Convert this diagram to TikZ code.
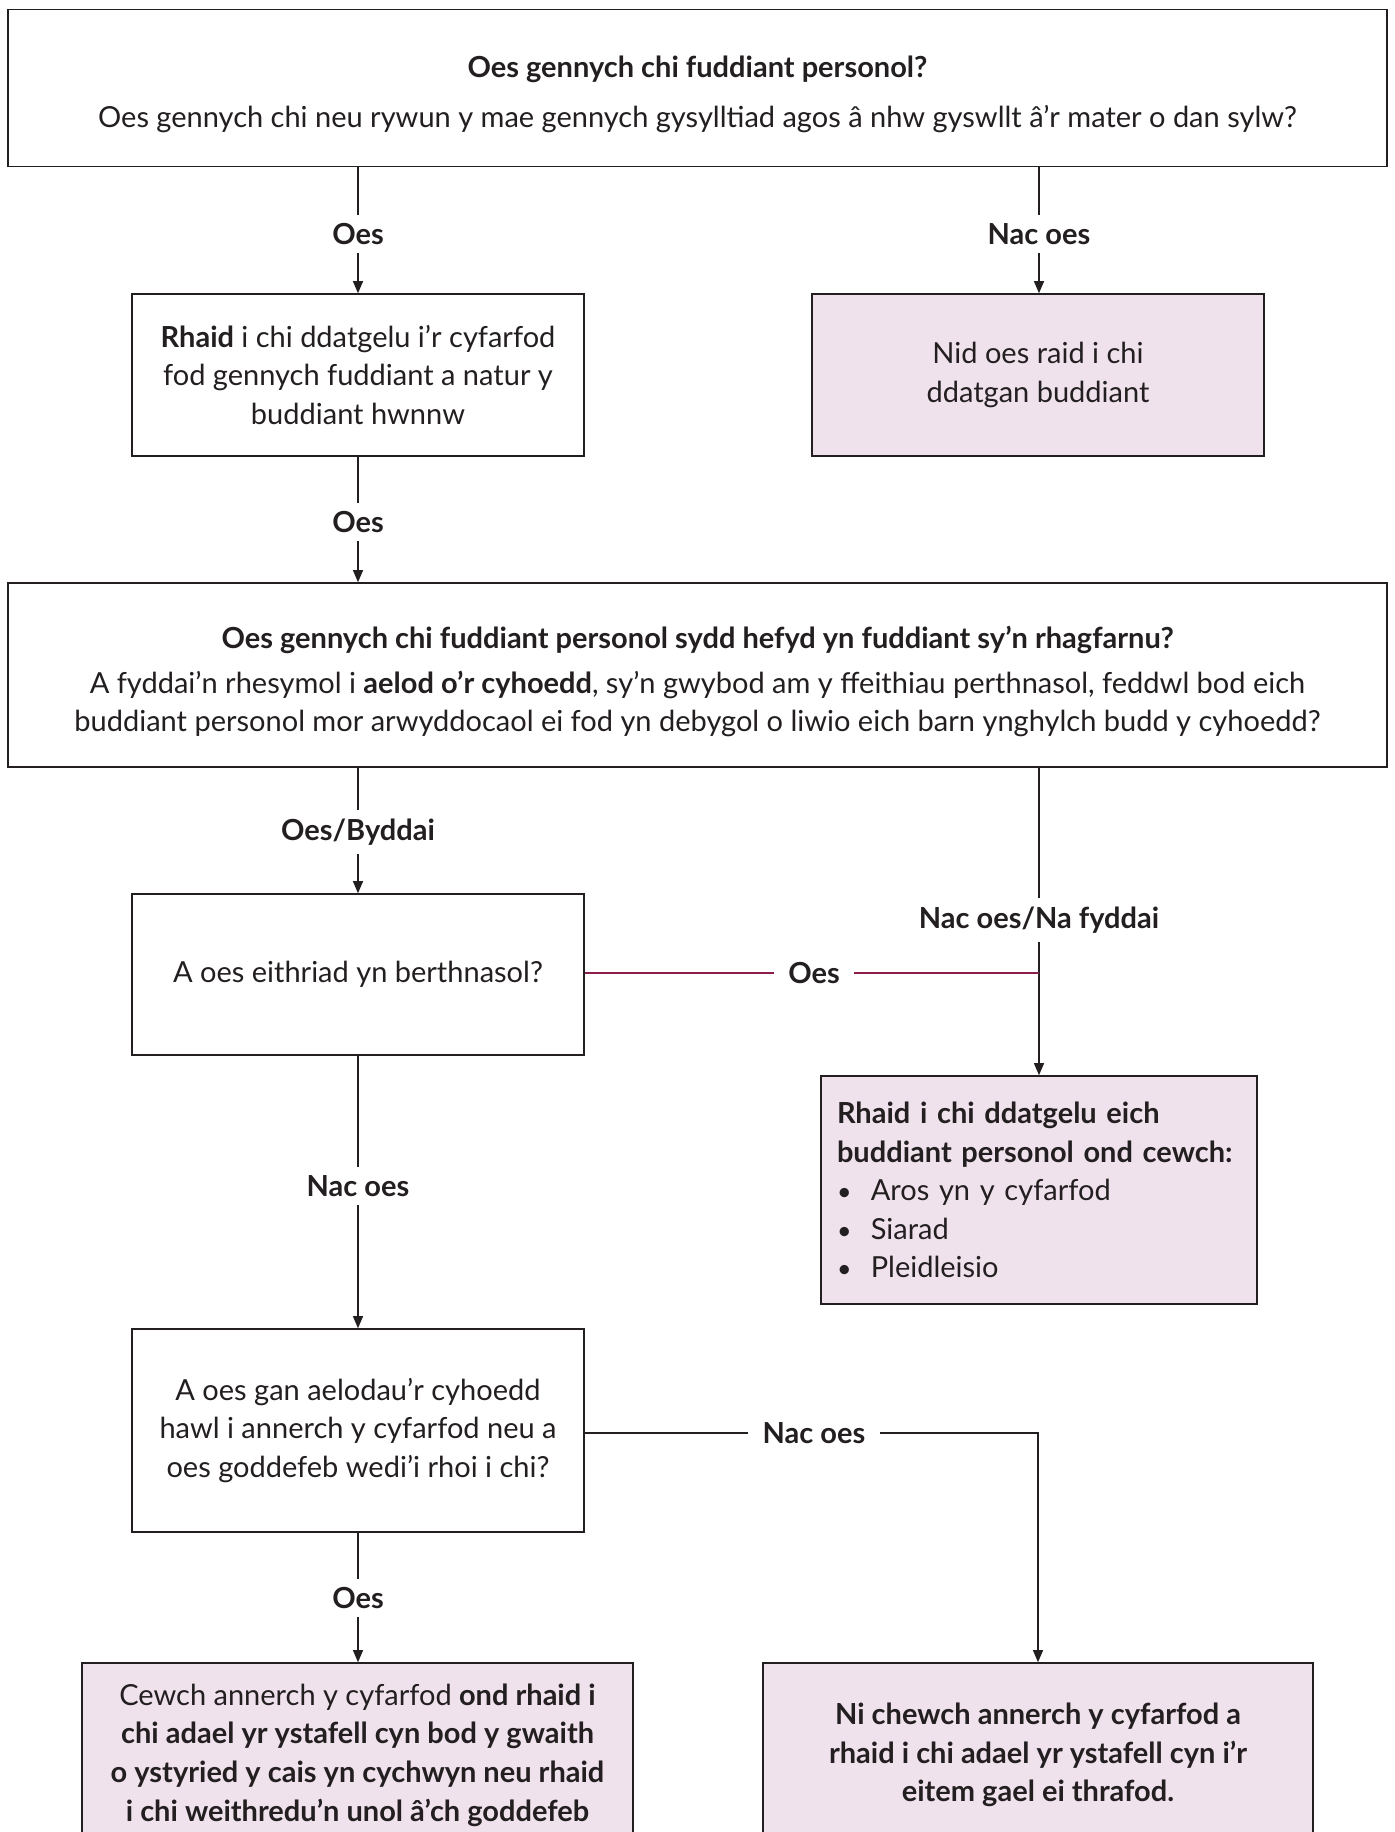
\documentclass[tikz,border=0pt]{standalone}
\usepackage{fontspec}
\setmainfont{Lato}
\usetikzlibrary{arrows.meta}
\definecolor{pinkfill}{RGB}{240,226,236}
\definecolor{purpline}{RGB}{140,30,75}
\definecolor{ink}{RGB}{35,31,32}
\newcommand{\bodyfont}{\fontsize{14.5}{19.3}\selectfont}
\newcommand{\blt}{{\fontsize{12.5}{12.5}\selectfont •}\ \ }
\tikzset{
  box/.style={draw=ink, line width=0.8pt, align=center, inner sep=0pt},
  pinkbox/.style={box, fill=pinkfill},
  lab/.style={font=\bodyfont\bfseries, inner sep=4pt},
  link/.style={draw=ink, line width=0.6pt},
  arr/.style={link, -{Triangle[length=6pt,width=5pt]}}
}
\begin{document}
\begin{tikzpicture}[x=0.5pt,y=-0.5pt, every node/.style={text=ink, font=\bodyfont}]
\useasboundingbox (0,0) rectangle (1394,1832);
\fill[white] (0,0) rectangle (1394,1832);

% boxes
\node[box, minimum width=689.5pt, minimum height=78.5pt] (top) at (697.5,88)
  {\rule{0pt}{17pt}\textbf{Oes gennych chi fuddiant personol?}\\[6pt]
   Oes gennych chi neu rywun y mae gennych gysylltiad agos â nhw gyswllt â’r mater o dan sylw?};
\node[box, minimum width=226pt, minimum height=81pt] (disclose) at (358,375)
  {\textbf{Rhaid} i chi ddatgelu i’r cyfarfod\\ fod gennych fuddiant a natur y\\ buddiant hwnnw};
\node[pinkbox, minimum width=226pt, minimum height=81pt] (noneed) at (1038,375)
  {Nid oes raid i chi\\ ddatgan buddiant};
\node[box, minimum width=689.5pt, minimum height=92pt] (prejud) at (697.5,675)
  {\rule{0pt}{18pt}\textbf{Oes gennych chi fuddiant personol sydd hefyd yn fuddiant sy’n rhagfarnu?}\\[3pt]
   A fyddai’n rhesymol i \textbf{aelod o’r cyhoedd}, sy’n gwybod am y ffeithiau perthnasol, feddwl bod eich\\
   buddiant personol mor arwyddocaol ei fod yn debygol o liwio eich barn ynghylch budd y cyhoedd?};
\node[box, minimum width=226pt, minimum height=80.5pt] (except) at (358,974.5)
  {A oes eithriad yn berthnasol?};
\node[pinkbox, minimum width=218pt, minimum height=114pt, align=left, text width=202pt] (stay) at (1039,1190)
  {\textbf{Rhaid i chi ddatgelu eich}\\ \textbf{buddiant personol ond cewch:}\\
   \blt Aros yn y cyfarfod\\ \blt Siarad\\ \blt Pleidleisio};
\node[box, minimum width=226pt, minimum height=101.5pt] (public) at (358,1430.5)
  {A oes gan aelodau’r cyhoedd\\ hawl i annerch y cyfarfod neu a\\ oes goddefeb wedi’i rhoi i chi?};
\node[pinkbox, minimum width=275.5pt, minimum height=92pt] (leavea) at (357.5,1755)
  {Cewch annerch y cyfarfod \textbf{ond rhaid i}\\ \textbf{chi adael yr ystafell cyn bod y gwaith}\\
   \textbf{o ystyried y cais yn cychwyn neu rhaid}\\ \textbf{i chi weithredu’n unol â’ch goddefeb}};
\node[pinkbox, minimum width=275pt, minimum height=92pt] (leaveb) at (1038,1755)
  {\textbf{Ni chewch annerch y cyfarfod a}\\ \textbf{rhaid i chi adael yr ystafell cyn i’r}\\
   \textbf{eitem gael ei thrafod.}};

% labels
\node[lab] (yes1) at (358,234) {Oes};
\node[lab] (no1) at (1039,234) {Nac oes};
\node[lab] (yes2) at (358,522) {Oes};
\node[lab] (yes3) at (358,832) {Oes/Byddai};
\node[lab] (no3) at (1039,920) {Nac oes/Na fyddai};
\node[lab, inner xsep=7pt] (yes4) at (814,973) {Oes};
\node[lab] (no4) at (358,1186) {Nac oes};
\node[lab, inner xsep=7pt] (no5) at (814,1433) {Nac oes};
\node[lab] (yes5) at (358,1598) {Oes};
\coordinate (join) at (1039,973);

% connectors
\draw[link] (yes1 |- top.south) -- (yes1);
\draw[arr] (yes1) -- (disclose);
\draw[link] (no1 |- top.south) -- (no1);
\draw[arr] (no1) -- (no1 |- noneed.north);
\draw[link] (disclose) -- (yes2);
\draw[arr] (yes2) -- (yes2 |- prejud.north);
\draw[link] (yes3 |- prejud.south) -- (yes3);
\draw[arr] (yes3) -- (except);
\draw[link] (no3 |- prejud.south) -- (no3);
\draw[arr] (no3) -- (stay);
\draw[link, draw=purpline] (except.east |- yes4) -- (yes4);
\draw[link, draw=purpline] (yes4) -- (join);
\draw[link] (except) -- (no4);
\draw[arr] (no4) -- (public);
\draw[link] (public.east |- no5) -- (no5);
\draw[arr] (no5) -| (leaveb.north);
\draw[link] (public) -- (yes5);
\draw[arr] (yes5) -- (leavea.north -| yes5);
\end{tikzpicture}
\end{document}
